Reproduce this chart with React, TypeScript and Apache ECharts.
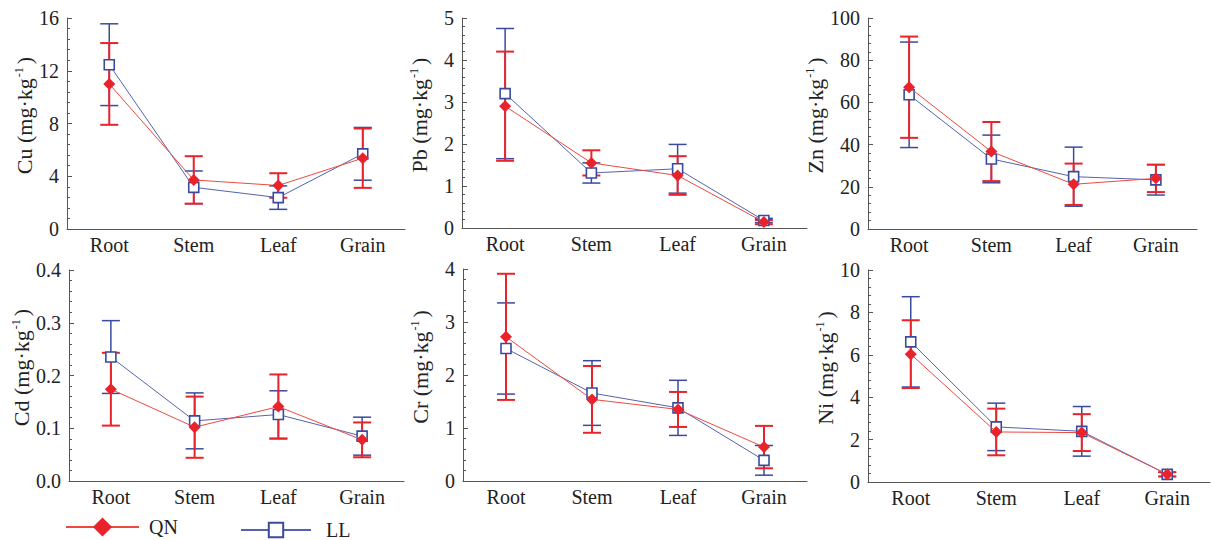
import React, { useEffect, useRef } from "react";
import * as echarts from "echarts";

const categories = ["Root", "Stem", "Leaf", "Grain"];

const cuQN = [11.0, 3.72, 3.3, 5.37];
const cuQNErr = [3.1, 1.8, 0.93, 2.25];
const cuLL = [12.46, 3.16, 2.38, 5.7];
const cuLLErr = [3.1, 1.24, 0.89, 2.0];

const pbQN = [2.9, 1.55, 1.25, 0.14];
const pbQNErr = [1.3, 0.3, 0.46, 0.05];
const pbLL = [3.2, 1.31, 1.41, 0.18];
const pbLLErr = [1.55, 0.24, 0.58, 0.05];

const znQN = [67.2, 36.7, 21.2, 24.0];
const znQNErr = [24, 14, 9.8, 6.5];
const znLL = [63.6, 33.2, 24.8, 23.3];
const znLLErr = [25, 11.3, 14, 7.2];

const cdQN = [0.174, 0.102, 0.141, 0.078];
const cdQNErr = [0.069, 0.058, 0.061, 0.033];
const cdLL = [0.235, 0.114, 0.126, 0.085];
const cdLLErr = [0.069, 0.053, 0.045, 0.036];

const crQN = [2.72, 1.54, 1.35, 0.64];
const crQNErr = [1.19, 0.63, 0.33, 0.4];
const crLL = [2.5, 1.66, 1.38, 0.39];
const crLLErr = [0.86, 0.61, 0.52, 0.28];

const niQN = [6.03, 2.36, 2.33, 0.36];
const niQNErr = [1.6, 1.1, 0.87, 0.1];
const niLL = [6.61, 2.6, 2.39, 0.36];
const niLLErr = [2.13, 1.12, 1.17, 0.1];

const elements = ["Cu", "Pb", "Zn", "Cd", "Cr", "Ni"];
const yMax = [16, 5, 100, 0.4, 4, 10];
const yStep = [4, 1, 20, 0.1, 1, 2];
const yDecimals = [0, 0, 0, 1, 0, 0];

const panels = [
  { qn: cuQN, qnErr: cuQNErr, ll: cuLL, llErr: cuLLErr },
  { qn: pbQN, qnErr: pbQNErr, ll: pbLL, llErr: pbLLErr },
  { qn: znQN, qnErr: znQNErr, ll: znLL, llErr: znLLErr },
  { qn: cdQN, qnErr: cdQNErr, ll: cdLL, llErr: cdLLErr },
  { qn: crQN, qnErr: crQNErr, ll: crLL, llErr: crLLErr },
  { qn: niQN, qnErr: niQNErr, ll: niLL, llErr: niLLErr },
];

const gridBoxes = [
  { left: 67, top: 18, width: 338, height: 211 },
  { left: 462, top: 18, width: 345, height: 210 },
  { left: 868, top: 18, width: 329, height: 211 },
  { left: 69, top: 270, width: 335, height: 211 },
  { left: 463, top: 269, width: 344, height: 212 },
  { left: 868, top: 270, width: 342, height: 212 },
];

const RED = "#e8232b";
const RED_LINE = "#ec4a40";
const BLUE = "#3a4a9e";
const BLUE_LINE = "#5563ab";
const AXIS = "#555555";
const FONT = "'Liberation Serif', 'Times New Roman', serif";

function errorSeries(idx: number, vals: number[], errs: number[], color: string, width: number) {
  return {
    type: "custom",
    xAxisIndex: idx,
    yAxisIndex: idx,
    silent: true,
    encode: { x: 0, y: 1 },
    data: vals.map((v, i) => [i, v, errs[i]]),
    renderItem: (params: any, api: any) => {
      const x = api.value(0);
      const v = api.value(1);
      const e = api.value(2);
      const top = api.coord([x, v + e]);
      const bot = api.coord([x, v - e]);
      const hw = 9;
      const style = { stroke: color, lineWidth: width };
      return {
        type: "group",
        children: [
          { type: "line", shape: { x1: top[0], y1: top[1], x2: bot[0], y2: bot[1] }, style },
          { type: "line", shape: { x1: top[0] - hw, y1: top[1], x2: top[0] + hw, y2: top[1] }, style },
          { type: "line", shape: { x1: bot[0] - hw, y1: bot[1], x2: bot[0] + hw, y2: bot[1] }, style },
        ],
      };
    },
  };
}

function buildOption() {
  const grid: any[] = [];
  const xAxis: any[] = [];
  const yAxis: any[] = [];
  const series: any[] = [];
  panels.forEach((p, i) => {
    grid.push({ ...gridBoxes[i], containLabel: false });
    xAxis.push({
      type: "category",
      gridIndex: i,
      data: categories,
      boundaryGap: true,
      axisLine: { lineStyle: { color: AXIS, width: 1 } },
      axisTick: { inside: true, length: 6, lineStyle: { color: AXIS } },
      axisLabel: { color: "#222", fontSize: 20, fontFamily: FONT, margin: 6 },
      splitLine: { show: false },
    });
    yAxis.push({
      type: "value",
      gridIndex: i,
      min: 0,
      max: yMax[i],
      interval: yStep[i],
      name: `{a|${elements[i]} (mg·kg}{s|-1}{a|)}`,
      nameLocation: "middle",
      nameRotate: 90,
      nameGap: 32,
      nameTextStyle: {
        fontFamily: FONT,
        fontSize: 22,
        color: "#222",
        padding: [0, 0, 0, 16],
        rich: {
          a: { fontFamily: FONT, fontSize: 22, color: "#222" },
          s: { fontFamily: FONT, fontSize: 12, color: "#222", verticalAlign: "top", padding: [0, 3, 0, 1] },
        },
      },
      axisLine: { show: true, lineStyle: { color: AXIS, width: 1 } },
      axisTick: { show: true, inside: true, length: 5, lineStyle: { color: AXIS } },
      minorTick: { show: true, splitNumber: 5, length: 3, lineStyle: { color: AXIS } },
      axisLabel: {
        color: "#222",
        fontSize: 20,
        fontFamily: FONT,
        margin: 8,
        formatter: (v: number) => v.toFixed(yDecimals[i]),
      },
      splitLine: { show: false },
    });
    series.push(errorSeries(i, p.ll, p.llErr, BLUE, 1.5));
    series.push(errorSeries(i, p.qn, p.qnErr, RED, 2));
    series.push({
      name: "LL",
      type: "line",
      xAxisIndex: i,
      yAxisIndex: i,
      data: p.ll,
      symbol: "rect",
      symbolSize: 10,
      lineStyle: { color: BLUE_LINE, width: 1 },
      itemStyle: { color: "#ffffff", borderColor: BLUE, borderWidth: 1.6 },
      z: 3,
    });
    series.push({
      name: "QN",
      type: "line",
      xAxisIndex: i,
      yAxisIndex: i,
      data: p.qn,
      symbol: "diamond",
      symbolSize: 12,
      lineStyle: { color: RED_LINE, width: 1 },
      itemStyle: { color: RED },
      z: 4,
    });
  });

  return {
    animation: false,
    backgroundColor: "#ffffff",
    grid,
    xAxis,
    yAxis,
    series,
    legend: [
      {
        data: ["QN"],
        left: 65,
        top: 517,
        padding: 0,
        itemWidth: 73,
        itemHeight: 24,
        textStyle: { fontFamily: FONT, fontSize: 20, color: "#222", padding: [0, 0, 0, 5] },
        selectedMode: false,
      },
      {
        data: ["LL"],
        left: 240,
        top: 520,
        padding: 0,
        itemWidth: 70,
        itemHeight: 18,
        textStyle: { fontFamily: FONT, fontSize: 20, color: "#222", padding: [0, 0, 0, 10] },
        selectedMode: false,
      },
    ],
  };
}

export default function App() {
  const ref = useRef<HTMLDivElement>(null);
  useEffect(() => {
    if (!ref.current) return;
    const chart = echarts.init(ref.current, undefined, { renderer: "svg" });
    chart.setOption(buildOption() as any);
    return () => chart.dispose();
  }, []);
  return (
    <div
      ref={ref}
      style={{ position: "fixed", left: 0, top: 0, width: 1211, height: 540, background: "#fff" }}
    />
  );
}
